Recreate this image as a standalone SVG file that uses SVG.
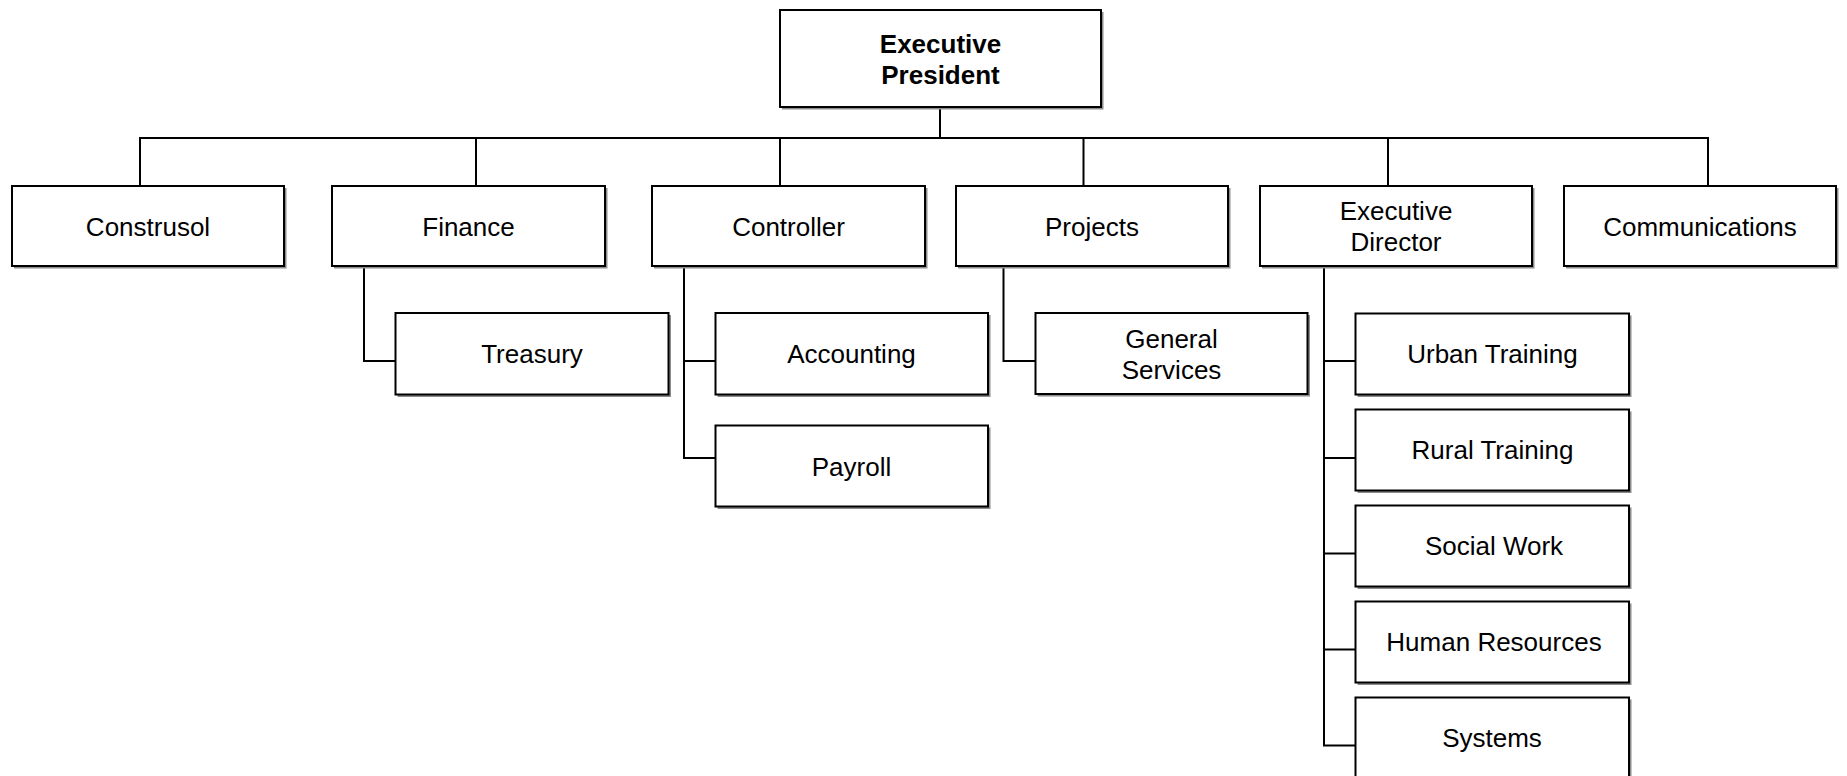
<svg xmlns="http://www.w3.org/2000/svg" width="1847" height="776" viewBox="0 0 1847 776">
  <style>
    .box { fill: #ffffff; stroke: #000000; stroke-width: 2; }
    .shadow { fill: none; stroke: #8c8c8c; stroke-width: 2; }
    .lbl { font-family: "Liberation Sans", Arial, sans-serif; font-size: 26px; fill: #000000; text-anchor: middle; }
    .bold { font-weight: bold; }
    .wire { fill: none; stroke: #000000; stroke-width: 2; stroke-linecap: square; }
  </style>
  <rect width="1847" height="776" fill="#ffffff"/>

  <!-- reporting lines -->
  <g id="connectors">
    <path class="wire" d="M940 107 V138"/>
    <path class="wire" d="M140 138 H1708"/>
    <path class="wire" d="M140 138 V186 M476 138 V186 M780 138 V186 M1083.5 138 V186 M1388 138 V186 M1708 138 V186"/>
    <!-- Finance -->
    <path class="wire" d="M364 266 V361 H395.5"/>
    <!-- Controller -->
    <path class="wire" d="M684 266 V458 H715.5 M684 361 H715.5"/>
    <!-- Projects -->
    <path class="wire" d="M1003.5 266 V361 H1035.5"/>
    <!-- Executive Director -->
    <path class="wire" d="M1324 266 V745.5 H1355.5 M1324 361 H1355.5 M1324 458 H1355.5 M1324 553.5 H1355.5 M1324 649.5 H1355.5"/>
  </g>

  <g id="executive-president">
    <path class="shadow" d="M1102.5 12 V108.5 H782"/>
    <rect class="box" x="780" y="10" width="321" height="97"/>
    <text class="lbl bold" x="940.5" y="52.5">Executive</text>
    <text class="lbl bold" x="940.5" y="83.5">President</text>
  </g>

  <g id="construsol">
    <path class="shadow" d="M285.5 188 V267.5 H14"/>
    <rect class="box" x="12" y="186" width="272" height="80"/>
    <text class="lbl" x="148" y="235.5">Construsol</text>
  </g>
  <g id="finance">
    <path class="shadow" d="M606.5 188 V267.5 H334"/>
    <rect class="box" x="332" y="186" width="273" height="80"/>
    <text class="lbl" x="468.5" y="235.5">Finance</text>
  </g>
  <g id="controller">
    <path class="shadow" d="M926.5 188 V267.5 H654"/>
    <rect class="box" x="652" y="186" width="273" height="80"/>
    <text class="lbl" x="788.5" y="235.5">Controller</text>
  </g>
  <g id="projects">
    <path class="shadow" d="M1229.5 188 V267.5 H958"/>
    <rect class="box" x="956" y="186" width="272" height="80"/>
    <text class="lbl" x="1092" y="235.5">Projects</text>
  </g>
  <g id="executive-director">
    <path class="shadow" d="M1533.5 188 V267.5 H1262"/>
    <rect class="box" x="1260" y="186" width="272" height="80"/>
    <text class="lbl" x="1396" y="220">Executive</text>
    <text class="lbl" x="1396" y="251">Director</text>
  </g>
  <g id="communications">
    <path class="shadow" d="M1837.5 188 V267.5 H1566"/>
    <rect class="box" x="1564" y="186" width="272" height="80"/>
    <text class="lbl" x="1700" y="235.5">Communications</text>
  </g>

  <g id="treasury">
    <path class="shadow" d="M670 315 V396 H397.5"/>
    <rect class="box" x="395.5" y="313" width="273" height="81.5"/>
    <text class="lbl" x="532" y="363">Treasury</text>
  </g>
  <g id="accounting">
    <path class="shadow" d="M989.5 315 V396 H717.5"/>
    <rect class="box" x="715.5" y="313" width="272.5" height="81.5"/>
    <text class="lbl" x="851.5" y="363">Accounting</text>
  </g>
  <g id="payroll">
    <path class="shadow" d="M989.5 427.5 V508 H717.5"/>
    <rect class="box" x="715.5" y="425.5" width="272.5" height="81"/>
    <text class="lbl" x="851.5" y="475.5">Payroll</text>
  </g>
  <g id="general-services">
    <path class="shadow" d="M1309 315 V395.5 H1037.5"/>
    <rect class="box" x="1035.5" y="313" width="272" height="81"/>
    <text class="lbl" x="1171.5" y="347.5">General</text>
    <text class="lbl" x="1171.5" y="378.5">Services</text>
  </g>

  <g id="urban-training">
    <path class="shadow" d="M1630.5 315.5 V396 H1357.5"/>
    <rect class="box" x="1355.5" y="313.5" width="273.5" height="81"/>
    <text class="lbl" x="1492.5" y="363">Urban Training</text>
  </g>
  <g id="rural-training">
    <path class="shadow" d="M1630.5 411.5 V492 H1357.5"/>
    <rect class="box" x="1355.5" y="409.5" width="273.5" height="81"/>
    <text class="lbl" x="1492.5" y="459">Rural Training</text>
  </g>
  <g id="social-work">
    <path class="shadow" d="M1630.5 507.5 V588 H1357.5"/>
    <rect class="box" x="1355.5" y="505.5" width="273.5" height="81"/>
    <text class="lbl" x="1494" y="555">Social Work</text>
  </g>
  <g id="human-resources">
    <path class="shadow" d="M1630.5 603.5 V684 H1357.5"/>
    <rect class="box" x="1355.5" y="601.5" width="273.5" height="81"/>
    <text class="lbl" x="1494" y="651">Human Resources</text>
  </g>
  <g id="systems">
    <path class="shadow" d="M1630.5 699.5 V780 H1357.5"/>
    <rect class="box" x="1355.5" y="697.5" width="273.5" height="81"/>
    <text class="lbl" x="1492" y="747">Systems</text>
  </g>
</svg>
